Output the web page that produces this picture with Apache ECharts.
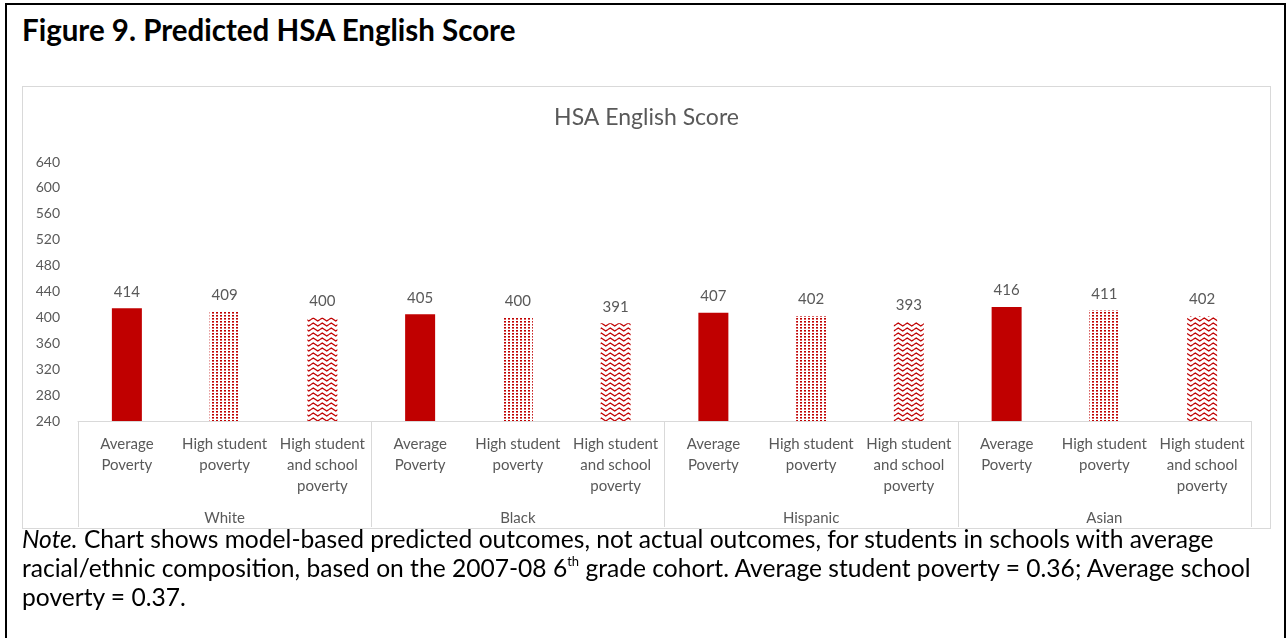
<!DOCTYPE html>
<html>
<head>
<meta charset="utf-8">
<script src="https://cdn.jsdelivr.net/npm/echarts@6/dist/echarts.min.js"></script>
<style>
  html, body { margin: 0; padding: 0; background: #fff; }
  body { width: 1288px; height: 638px; position: relative; overflow: hidden; font-family: Lato, "Open Sans", sans-serif; }
  #frame { position: absolute; left: 5px; top: 3px; width: 1281px; height: 700px; border: 2px solid #000; box-sizing: border-box; }
  #fig-title { position: absolute; left: 22px; top: 12px; font-size: 29.5px; line-height: 35px; font-weight: bold; color: #000; white-space: nowrap; }
  #chart { position: absolute; left: 22px; top: 86px; width: 1249px; height: 443px; border: 1px solid #d9d9d9; box-sizing: border-box; }
  #note { position: absolute; left: 22px; top: 524px; width: 1260px; font-size: 24.6px; line-height: 29px; color: #000; white-space: nowrap; }
  #note sup { font-size: 13px; line-height: 0; vertical-align: 11px; }
</style>
</head>
<body>
<div id="frame"></div>
<div id="fig-title">Figure 9. Predicted HSA English Score</div>
<div id="chart"></div>
<div id="note"><i>Note.</i> Chart shows model-based predicted outcomes, not actual outcomes, for students in schools with average<br>racial/ethnic composition, based on the 2007-08 6<sup>th</sup> grade cohort. Average student poverty = 0.36; Average school<br>poverty = 0.37.</div>
<script>
// Groups and the three poverty scenarios shown within each group
const groups = ['White', 'Black', 'Hispanic', 'Asian'];
const scenarios = ['Average\nPoverty', 'High student\npoverty', 'High student\nand school\npoverty'];

// Predicted HSA English scores, one value per group for each scenario
const averagePoverty = [414, 405, 407, 416];
const highStudentPoverty = [409, 400, 402, 411];
const highStudentSchoolPoverty = [400, 391, 393, 402];

// Value axis ticks
const yMin = 240, yMax = 640, yStep = 40;

const RED = '#C00000';

// Small dotted fill
function dotPattern() {
  const c = document.createElement('canvas');
  c.width = 4; c.height = 3;
  const g = c.getContext('2d');
  g.fillStyle = RED;
  g.fillRect(1, 0, 2, 1.6);
  return c;
}
// Wavy line fill
function wavePattern() {
  const c = document.createElement('canvas');
  c.width = 9; c.height = 5;
  const g = c.getContext('2d');
  g.strokeStyle = RED;
  g.lineWidth = 1.4;
  g.beginPath();
  g.moveTo(0, 2.5); g.lineTo(2.25, 1); g.lineTo(4.5, 2.5); g.lineTo(6.75, 4); g.lineTo(9, 2.5);
  g.stroke();
  return c;
}

const fills = [RED, { image: dotPattern(), repeat: 'repeat' }, { image: wavePattern(), repeat: 'repeat' }];
const seriesByScenario = [averagePoverty, highStudentPoverty, highStudentSchoolPoverty];

const categories = [];
const barData = [];
groups.forEach((grp, gi) => {
  scenarios.forEach((sc, si) => {
    categories.push(sc);
    barData.push({ value: seriesByScenario[si][gi], itemStyle: { color: fills[si] } });
  });
});

const textColor = '#595959';
const font = 'Lato, "Open Sans", sans-serif';

const chart = echarts.init(document.getElementById('chart'), null, { renderer: 'canvas' });
chart.setOption({
  animation: false,
  title: {
    text: 'HSA English Score',
    left: 'center',
    top: 14,
    textStyle: { color: textColor, fontSize: 23, fontWeight: 'normal', fontFamily: font }
  },
  grid: { left: 55, right: 19, top: 75, bottom: 107 },
  xAxis: [
    {
      type: 'category',
      data: categories,
      position: 'bottom',
      axisLine: { lineStyle: { color: '#d9d9d9', width: 1 } },
      axisTick: { show: false },
      axisLabel: { interval: 0, color: textColor, fontSize: 15, lineHeight: 21, margin: 13, fontFamily: font }
    },
    {
      type: 'category',
      data: groups,
      position: 'bottom',
      axisLine: { show: false },
      axisTick: { show: true, length: 106, lineStyle: { color: '#d9d9d9', width: 1 } },
      axisLabel: { color: textColor, fontSize: 15, margin: 90, fontFamily: font }
    }
  ],
  yAxis: {
    type: 'value',
    min: yMin, max: yMax, interval: yStep,
    axisLine: { show: false },
    axisTick: { show: false },
    splitLine: { show: false },
    axisLabel: { color: textColor, fontSize: 14, margin: 18, fontFamily: font }
  },
  series: [{
    type: 'bar',
    xAxisIndex: 0,
    barWidth: 30,
    data: barData,
    label: { show: true, position: 'top', distance: 9, color: textColor, fontSize: 15, fontFamily: font }
  }]
});
</script>
</body>
</html>
